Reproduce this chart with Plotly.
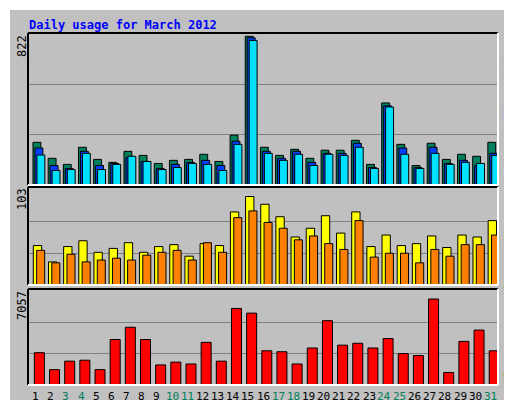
import plotly.graph_objects as go

days = list(range(1, 32))
hits  = [232,145,112,205,139,123,183,161,117,134,139,167,128,271,808,205,161,194,145,189,189,243,112,446,221,106,227,139,167,156,232]
files = [201,106,90,183,106,117,150,128,90,112,123,134,106,238,800,183,145,183,123,172,172,227,95,430,201,95,205,117,134,106,172]
pages = [163,79,84,172,84,112,156,128,84,95,117,112,79,221,786,172,134,167,106,167,161,205,90,424,167,90,172,112,123,117,161]
visits = [42.7,25,41.6,47.9,35.4,39.6,45.8,35.4,41.6,43.7,31.2,44.8,42.7,79.1,95.8,87.4,73.9,52,61.4,75,56.2,79.1,41.6,54.1,42.7,44.8,53.1,40.6,54.1,52,69.7]
sites  = [37.5,24,33.3,25,27,29,27,32.3,35.4,37.5,27,45.8,35.4,72.9,80.2,67.7,61.4,48.9,53.1,44.8,38.5,69.7,30.2,34.4,34.4,24,38.5,31.2,43.7,43.7,54.1]
kbytes = [2447,1164,1806,1877,1164,3445,4372,3445,1521,1734,1592,3231,1806,5797,5441,2590,2519,1592,2804,4871,3017,3160,2804,3516,2376,2233,6510,950,3303,4158,2590]
weekend = [3,4,10,11,17,18,24,25,31]
max_hits, max_visits, max_kb = 822, 103, 7057

W, H = 512, 400
def py(y): return 1 - y / H

fig = go.Figure()
line = dict(color="black", width=1)
def bars(y, color, off, wid, xa, ya):
    fig.add_trace(go.Bar(x=days, y=y, marker=dict(color=color, line=line),
                         offset=off, width=wid, xaxis=xa, yaxis=ya, showlegend=False))

bars(hits, "#00805c", -0.17, 0.52, "x", "y")
bars(files, "#0040ff", -0.04, 0.52, "x", "y")
bars(pages, "#00e0ff", 0.09, 0.52, "x", "y")
bars(visits, "#ffff00", -0.15, 0.55, "x2", "y2")
bars(sites, "#ff8000", 0.07, 0.53, "x2", "y2")
bars(kbytes, "#ff0000", -0.08, 0.66, "x3", "y3")

xd = [20/W, 490/W]
common_x = dict(domain=xd, range=[0.5, 31.5], showgrid=False, zeroline=False, fixedrange=True, showticklabels=False)
fig.update_layout(
    width=W, height=H, margin=dict(l=0, r=0, t=0, b=0),
    paper_bgcolor="#c0c0c0", plot_bgcolor="#c0c0c0", barmode="overlay",
    font=dict(family="DejaVu Sans Mono", size=11, color="black"),
    xaxis=dict(**common_x, anchor="y"),
    xaxis2=dict(**common_x, anchor="y2"),
    xaxis3=dict(**common_x, anchor="y3"),
    yaxis=dict(domain=[py(177), py(25)], range=[0, max_hits*1.005], tickvals=[max_hits/3, 2*max_hits/3],
               showticklabels=False, gridcolor="#808080", zeroline=False),
    yaxis2=dict(domain=[py(277), py(179)], range=[0, max_visits*1.03], tickvals=[max_visits/3, 2*max_visits/3],
                showticklabels=False, gridcolor="#808080", zeroline=False),
    yaxis3=dict(domain=[py(377), py(281)], range=[0, max_kb*1.03], tickvals=[max_kb/3, 2*max_kb/3],
                showticklabels=False, gridcolor="#808080", zeroline=False),
)

shapes = [dict(type="line", xref="paper", yref="paper", x0=0, x1=1, y0=1-1/H, y1=1-1/H, line=dict(color="white", width=2)),
          dict(type="line", xref="paper", yref="paper", x0=1/W, x1=1/W, y0=0, y1=1, line=dict(color="white", width=2)),
          dict(type="line", xref="paper", yref="paper", x0=0, x1=1, y0=3/H, y1=3/H, line=dict(color="#808080", width=6)),
          dict(type="line", xref="paper", yref="paper", x0=1-3/W, x1=1-3/W, y0=0, y1=1, line=dict(color="#808080", width=6))]
for top, bot in [(25, 177), (179, 277), (281, 377)]:
    x0, x1 = xd
    shapes += [dict(type="line", xref="paper", yref="paper", x0=x0, x1=x1, y0=py(top), y1=py(top), line=dict(color="black", width=2)),
               dict(type="line", xref="paper", yref="paper", x0=x0, x1=x0, y0=py(bot), y1=py(top), line=dict(color="black", width=2)),
               dict(type="line", xref="paper", yref="paper", x0=x0, x1=x1, y0=py(bot), y1=py(bot), line=dict(color="white", width=2)),
               dict(type="line", xref="paper", yref="paper", x0=x1, x1=x1, y0=py(bot), y1=py(top), line=dict(color="white", width=2))]
fig.update_layout(shapes=shapes)

ann = [
    dict(text="<b>Daily usage for March 2012</b>", x=19/W, y=py(8), xanchor="left", yanchor="top",
         font=dict(color="#0000ff", size=12, family="DejaVu Sans Mono")),
    dict(text=str(max_hits), x=14/W, y=py(38), textangle=-90, xanchor="center", yanchor="middle", font=dict(size=12)),
    dict(text=str(max_visits), x=14/W, y=py(191), textangle=-90, xanchor="center", yanchor="middle", font=dict(size=12)),
    dict(text=str(max_kb), x=14/W, y=py(298), textangle=-90, xanchor="center", yanchor="middle", font=dict(size=12)),
    dict(text="<span style='color:#00e0ff'>Pages</span> / <span style='color:#0040ff'>Files</span> / <span style='color:#00805c'>Hits</span>",
         x=500/W, y=py(100), textangle=-90, xanchor="center", yanchor="middle", font=dict(size=11)),
    dict(text="<span style='color:#ff8000'>Sites</span> / <span style='color:#e0e000'>Visits</span>",
         x=500/W, y=py(237), textangle=-90, xanchor="center", yanchor="middle", font=dict(size=11)),
    dict(text="<span style='color:#ff0000'>KBytes</span>",
         x=500/W, y=py(356), textangle=-90, xanchor="center", yanchor="middle", font=dict(size=11)),
]
for d in days:
    ann.append(dict(text=str(d), x=d, xref="x3", y=py(388), yanchor="middle", xanchor="center",
                    font=dict(size=11, color="#00805c" if d in weekend else "black")))
for a in ann:
    a.setdefault("xref", "paper")
    a.update(yref="paper", showarrow=False)
fig.update_layout(annotations=ann)

fig.write_html("out.html")
